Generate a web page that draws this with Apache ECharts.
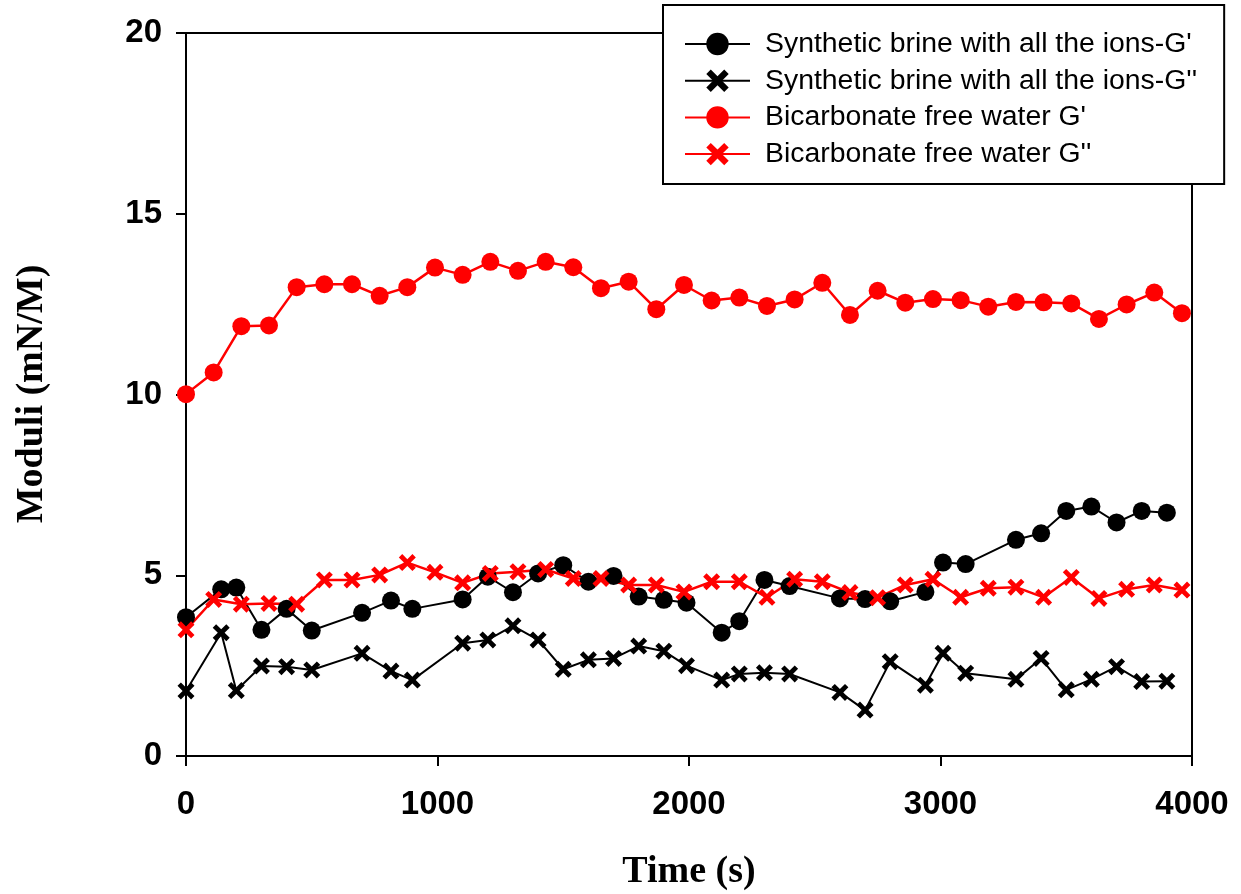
<!DOCTYPE html>
<html>
<head>
<meta charset="utf-8">
<script src="https://cdn.jsdelivr.net/npm/echarts@6/dist/echarts.min.js"></script>
<style>html,body{margin:0;padding:0;background:#fff;}#c{width:1241px;height:894px;}</style>
</head>
<body>
<div id="c"></div>
<script>
var seriesNames = ["Synthetic brine with all the ions-G'", "Synthetic brine with all the ions-G''", "Bicarbonate free water G'", "Bicarbonate free water G''"];
var blackTimes = [0,140,200,300,400,500,700,815,900,1100,1200,1300,1400,1500,1600,1700,1800,1900,1990,2130,2200,2300,2400,2600,2700,2800,2940,3010,3100,3300,3400,3500,3600,3700,3800,3900];
var blackG1 = [3.84,4.61,4.66,3.49,4.07,3.47,3.96,4.30,4.07,4.33,4.96,4.53,5.05,5.28,4.82,4.98,4.41,4.32,4.24,3.41,3.73,4.87,4.70,4.36,4.34,4.28,4.54,5.35,5.31,5.98,6.16,6.78,6.90,6.46,6.78,6.73];
var blackG2 = [1.80,3.41,1.81,2.49,2.47,2.38,2.84,2.35,2.10,3.12,3.21,3.60,3.21,2.40,2.66,2.70,3.04,2.90,2.50,2.10,2.27,2.30,2.27,1.76,1.27,2.61,1.96,2.84,2.29,2.12,2.70,1.83,2.12,2.47,2.06,2.07];
var redTimes = [0,110,220,330,440,550,660,770,880,990,1100,1210,1320,1430,1540,1650,1760,1870,1980,2090,2200,2310,2420,2530,2640,2750,2860,2970,3080,3190,3300,3410,3520,3630,3740,3850,3960];
var redG1 = [10.01,10.61,11.89,11.91,12.97,13.05,13.05,12.73,12.97,13.51,13.31,13.67,13.42,13.67,13.52,12.94,13.12,12.36,13.03,12.60,12.68,12.45,12.63,13.09,12.20,12.87,12.54,12.64,12.61,12.43,12.56,12.55,12.52,12.09,12.49,12.82,12.25];
var redG2 = [3.49,4.33,4.20,4.22,4.20,4.87,4.87,5.01,5.35,5.08,4.79,5.05,5.10,5.16,4.91,4.91,4.73,4.73,4.54,4.82,4.82,4.39,4.89,4.82,4.52,4.38,4.73,4.89,4.39,4.64,4.67,4.39,4.94,4.36,4.61,4.73,4.59];
var xTicks = [0,1000,2000,3000,4000];
var yTicks = [0,5,10,15,20];

function pairs(t, v){ return t.map(function(x,i){ return [x, v[i]]; }); }
var crossPath = 'path://M0,20 L20,0 L50,30 L80,0 L100,20 L70,50 L100,80 L80,100 L50,70 L20,100 L0,80 L30,50 Z';

function mk(name, t, v, color, symbol, size, lw){
  return {
    name: name, type: 'line', data: pairs(t, v), clip: false,
    symbol: symbol, symbolSize: size, showAllSymbol: true,
    lineStyle: {color: color, width: lw},
    itemStyle: {color: color, borderWidth: 0},
    emphasis: {disabled: true}, animation: false
  };
}

var chart = echarts.init(document.getElementById('c'));
chart.setOption({
  animation: false,
  backgroundColor: '#fff',
  grid: {left: 186, right: 49, top: 33, bottom: 138, show: true, borderColor: '#000', borderWidth: 2, backgroundColor: 'transparent'},
  xAxis: {
    type: 'value', min: 0, max: 4000, interval: 1000,
    axisLine: {show: true, onZero: false, lineStyle: {color: '#000', width: 2}},
    axisTick: {show: true, length: 10, lineStyle: {color: '#000', width: 2}},
    splitLine: {show: false},
    axisLabel: {margin: 32, color: '#000', fontFamily: 'Liberation Sans', fontWeight: 'bold', fontSize: 33,
      formatter: function(v){ return xTicks.indexOf(v) >= 0 ? String(v) : ''; }}
  },
  yAxis: {
    type: 'value', min: 0, max: 20, interval: 5,
    axisLine: {show: true, onZero: false, lineStyle: {color: '#000', width: 2}},
    axisTick: {show: true, length: 10, lineStyle: {color: '#000', width: 2}},
    splitLine: {show: false},
    axisLabel: {margin: 24, color: '#000', fontFamily: 'Liberation Sans', fontWeight: 'bold', fontSize: 33,
      formatter: function(v){ return yTicks.indexOf(v) >= 0 ? String(v) : ''; }}
  },
  legend: {
    orient: 'vertical', left: 663, top: 5,
    padding: [25, 27, 16, 21],
    itemWidth: 65, itemHeight: 28, itemGap: 8.7,
    backgroundColor: '#fff', borderColor: '#000', borderWidth: 2, borderRadius: 0,
    textStyle: {color: '#000', fontFamily: 'Liberation Sans', fontSize: 28.4, lineHeight: 28, padding: [0,0,0,10]},
    data: seriesNames
  },
  graphic: [
    {type: 'text', x: 689, y: 872, style: {text: 'Time (s)', fontFamily: 'Liberation Serif', fontWeight: 'bold', fontSize: 38, fill: '#000', align: 'center', verticalAlign: 'middle'}},
    {type: 'text', x: 32, y: 394, rotation: Math.PI/2, style: {text: 'Moduli (mN/M)', fontFamily: 'Liberation Serif', fontWeight: 'bold', fontSize: 38, fill: '#000', align: 'center', verticalAlign: 'middle'}}
  ],
  series: [
    mk(seriesNames[0], blackTimes, blackG1, '#000', 'circle', 18, 2),
    mk(seriesNames[1], blackTimes, blackG2, '#000', crossPath, 17, 2),
    mk(seriesNames[2], redTimes, redG1, '#ff0000', 'circle', 18, 2.5),
    mk(seriesNames[3], redTimes, redG2, '#ff0000', crossPath, 17, 2.5)
  ]
});
</script>
</body>
</html>
